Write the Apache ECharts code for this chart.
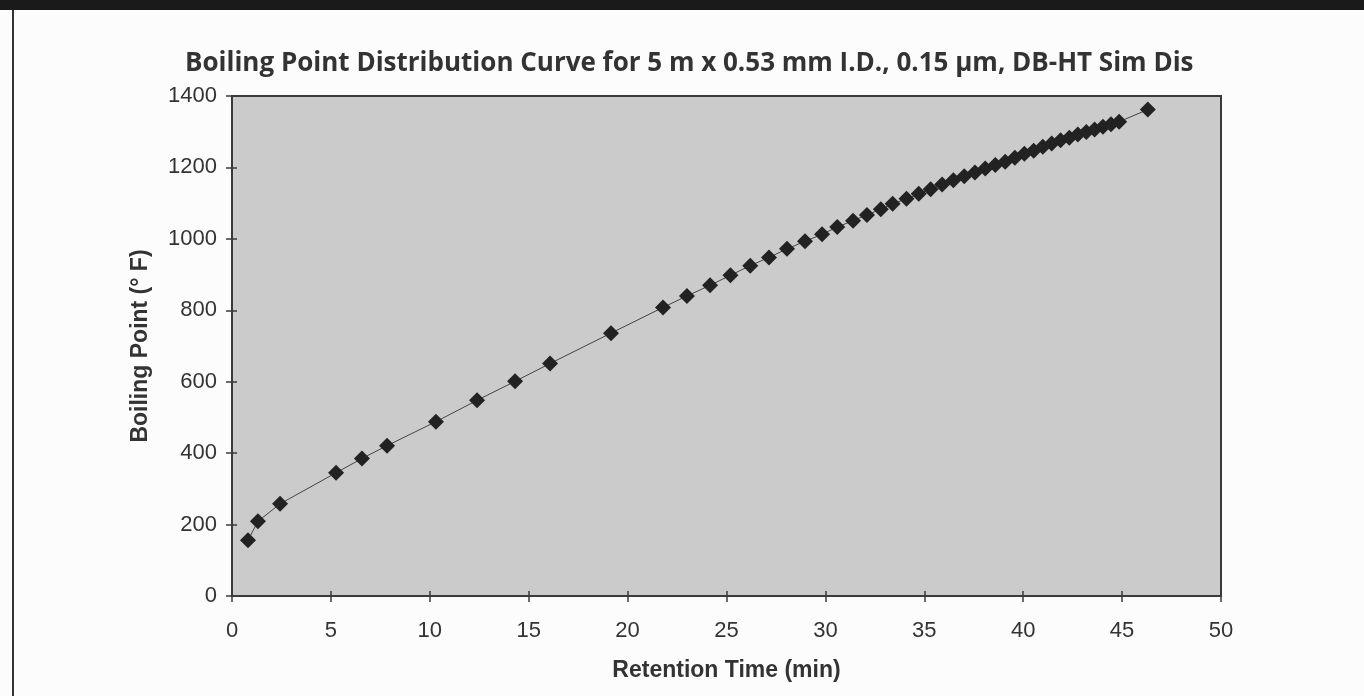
<!DOCTYPE html>
<html>
<head>
<meta charset="utf-8">
<script src="https://cdn.jsdelivr.net/npm/echarts@6/dist/echarts.min.js"></script>
<style>
html,body{margin:0;padding:0;background:#fff;}
#chart{width:1364px;height:696px;}
</style>
</head>
<body>
<div id="chart"></div>
<script>
// Retention time (min)
const retentionTime = [0.81, 1.31, 2.43, 5.26, 6.57, 7.84, 10.31, 12.39, 14.31, 16.08, 19.16, 21.79, 23.0, 24.17, 25.2, 26.2, 27.15, 28.06, 28.97, 29.83, 30.6, 31.4, 32.1, 32.8, 33.4,
  34.1, 34.72, 35.32, 35.9, 36.47, 37.02, 37.56, 38.08, 38.59, 39.09, 39.58, 40.06, 40.53, 40.99, 41.44, 41.89, 42.33, 42.76, 43.19, 43.61, 44.03, 44.44, 44.85,
  46.3];
// Boiling point (°F)
const boilingPoint = [156, 209, 258, 345, 385, 421, 488, 548, 601, 651, 736, 808, 840, 870, 898, 925, 948, 972, 993, 1013, 1033, 1051, 1067, 1083, 1098,
  1112, 1126, 1139, 1152, 1164, 1175, 1186, 1197, 1207, 1216, 1227, 1238, 1247, 1258, 1267, 1276, 1283, 1292, 1299, 1306, 1314, 1321, 1328,
  1362];
const xTicks = {min: 0, max: 50, interval: 5};
const yTicks = {min: 0, max: 1400, interval: 200};
const titleText = 'Boiling Point Distribution Curve for 5 m x 0.53 mm I.D., 0.15 µm, DB-HT Sim Dis';
const xName = 'Retention Time (min)';
const yName = 'Boiling Point (° F)';

const points = retentionTime.map((t, i) => [t, boilingPoint[i]]);
const chart = echarts.init(document.getElementById('chart'));
const labelFont = {fontFamily: 'Liberation Sans, Arial, sans-serif', fontSize: 22, color: '#333', formatter: v => String(v)};
const nameFont = {fontFamily: 'Liberation Sans, Arial, sans-serif', fontWeight: 'bold', fontSize: 23, color: '#333'};
chart.setOption({
  animation: false,
  backgroundColor: '#fcfcfc',
  graphic: [
    {type: 'rect', shape: {x: 0, y: 0, width: 1364, height: 10}, style: {fill: '#1a1a1a'}},
    {type: 'rect', shape: {x: 12, y: 10, width: 2, height: 686}, style: {fill: '#333'}}
  ],
  title: {
    text: titleText, left: 180, top: 46,
    textStyle: {fontFamily: 'Open Sans, sans-serif', fontWeight: 'bold', fontSize: 26, color: '#333'}
  },
  grid: {
    left: 232, right: 143, top: 96, bottom: 100, show: true,
    backgroundColor: '#cbcbcb', borderColor: '#3a3a3a', borderWidth: 2
  },
  xAxis: [{
    type: 'value', min: xTicks.min, max: xTicks.max, interval: xTicks.interval,
    name: xName, nameLocation: 'middle', nameGap: 63, nameTextStyle: nameFont,
    axisLine: {show: true, lineStyle: {color: '#3a3a3a', width: 2}},
    axisTick: {show: true, length: 6, lineStyle: {color: '#3a3a3a', width: 1.5}},
    axisLabel: Object.assign({margin: 24}, labelFont),
    splitLine: {show: false}
  }, {
    type: 'value', position: 'bottom', min: xTicks.min, max: xTicks.max, interval: xTicks.interval,
    axisLine: {show: false}, axisTick: {show: true, inside: true, length: 5, lineStyle: {color: '#3a3a3a', width: 1.5}},
    axisLabel: {show: false}, splitLine: {show: false}
  }],
  yAxis: [{
    type: 'value', min: yTicks.min, max: yTicks.max, interval: yTicks.interval,
    name: yName, nameLocation: 'middle', nameGap: 80, nameRotate: 90, nameTextStyle: nameFont,
    axisLine: {show: true, lineStyle: {color: '#3a3a3a', width: 2}},
    axisTick: {show: true, length: 6, lineStyle: {color: '#3a3a3a', width: 1.5}},
    axisLabel: Object.assign({margin: 15}, labelFont),
    splitLine: {show: false}
  }, {
    type: 'value', position: 'left', min: yTicks.min, max: yTicks.max, interval: yTicks.interval,
    axisLine: {show: false}, axisTick: {show: true, inside: true, length: 5, lineStyle: {color: '#3a3a3a', width: 1.5}},
    axisLabel: {show: false}, splitLine: {show: false}
  }],
  series: [{
    type: 'line', data: points, xAxisIndex: 0, yAxisIndex: 0,
    symbol: 'diamond', symbolSize: 16,
    itemStyle: {color: '#222'},
    lineStyle: {color: '#444', width: 1}
  }]
});
</script>
</body>
</html>
